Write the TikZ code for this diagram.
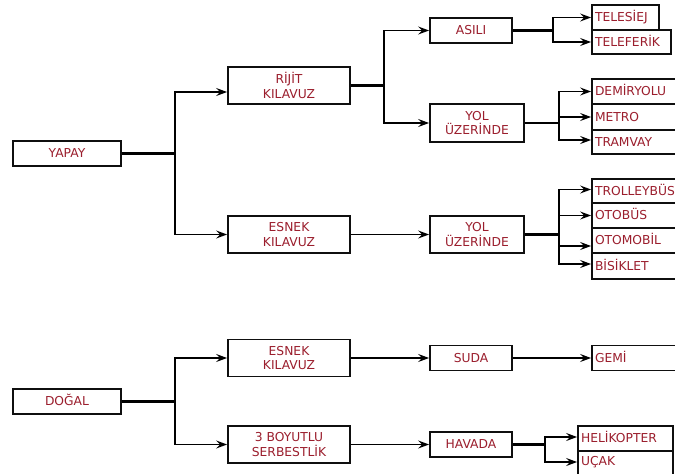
\documentclass[tikz,border=0pt]{standalone}
\usepackage{fontspec}
\setmainfont{DejaVu Sans}
\usetikzlibrary{arrows.meta}
\definecolor{txt}{RGB}{155,30,45}
\definecolor{edge}{RGB}{15,15,15}
\begin{document}
\begin{tikzpicture}[x=1pt,y=-1pt,
  box/.style={draw=edge,line width=1.8pt,fill=white,text=txt,inner sep=0pt,align=center,font=\fontsize{12.3}{14.5}\selectfont},
  one/.style={text height=8.8pt,text depth=0pt},
  leaf/.style={draw=edge,line width=1.8pt,fill=white,text=txt,inner xsep=3pt,inner ysep=0pt,align=left,font=\fontsize{12.3}{14.5}\selectfont,text height=8.8pt,text depth=0pt},
  stem/.style={draw=black,line width=2.4pt},
  arr/.style={draw=black,line width=1.6pt,-{Stealth[length=11pt,width=8pt,inset=4pt]}}]
\useasboundingbox (0,0) rectangle (675,474);
\clip (0,0) rectangle (675,474);

% main boxes
\node[box,one,minimum width=108pt,minimum height=25pt] (yapay) at (67,153.5) {YAPAY};
\node[box,one,minimum width=108pt,minimum height=25pt] (dogal) at (67,401.5) {DOĞAL};
\node[box,minimum width=122pt,minimum height=37pt] (rijit) at (289,85.5) {RİJİT\\KILAVUZ};
\node[box,minimum width=122pt,minimum height=37pt] (esnekA) at (289,234.5) {ESNEK\\KILAVUZ};
\node[box,minimum width=122pt,minimum height=37pt] (esnekB) at (289,358) {ESNEK\\KILAVUZ};
\node[box,minimum width=122pt,minimum height=37pt] (boyut) at (289,444.5) {3 BOYUTLU\\SERBESTLİK};
\node[box,one,minimum width=82pt,minimum height=25pt] (asili) at (471,30.5) {ASILI};
\node[box,minimum width=94pt,minimum height=38pt] (yolA) at (477,123) {YOL\\ÜZERİNDE};
\node[box,minimum width=94pt,minimum height=37pt] (yolB) at (477,234.5) {YOL\\ÜZERİNDE};
\node[box,one,minimum width=82pt,minimum height=25pt] (suda) at (471,358) {SUDA};
\node[box,one,minimum width=82pt,minimum height=25pt] (havada) at (471,444.5) {HAVADA};

% leaf boxes
\node[leaf,text width=61pt,minimum height=25pt] (telesiej) at (625.5,17.5) {TELESİEJ};
\node[leaf,text width=73pt,minimum height=24pt] (teleferik) at (631.5,42) {TELEFERİK};
\node[leaf,text width=77.5pt,minimum height=25pt] (demiryolu) at (633.75,91.5) {DEMİRYOLU};
\node[leaf,text width=77.5pt,minimum height=26pt] (metro) at (633.75,117) {METRO};
\node[leaf,text width=77.5pt,minimum height=24pt] (tramvay) at (633.75,142) {TRAMVAY};
\node[leaf,text width=77.5pt,minimum height=24pt] (trolleybus) at (633.75,191) {TROLLEYBÜS};
\node[leaf,text width=77.5pt,minimum height=25pt] (otobus) at (633.75,215.5) {OTOBÜS};
\node[leaf,text width=77.5pt,minimum height=25pt] (otomobil) at (633.75,240.5) {OTOMOBİL};
\node[leaf,text width=77.5pt,minimum height=26pt] (bisiklet) at (633.75,266) {BİSİKLET};
\node[leaf,text width=77.5pt,minimum height=25pt] (gemi) at (633.75,358) {GEMİ};
\node[leaf,text width=89pt,minimum height=25pt] (helikopter) at (625.5,438.5) {HELİKOPTER};
\node[leaf,text width=89pt,minimum height=25pt,text depth=4pt] (ucak) at (625.5,463.5) {UÇAK};

% connectors
\draw[stem] (yapay.east) -- ++(53,0) coordinate (j1);
\draw[arr] (j1) |- ([yshift=-6.5pt]rijit.west);
\draw[arr] (j1) |- (esnekA.west);

\draw[stem] (rijit.east) -- ++(33,0) coordinate (j2);
\draw[arr] (j2) |- (asili.west);
\draw[arr] (j2) |- (yolA.west);

\draw[stem] (asili.east) -- ++(40,0) coordinate (j3);
\draw[arr] (j3) |- (telesiej.west);
\draw[arr] (j3) |- (teleferik.west);

\draw[stem] (yolA.east) -- ++(34,0) coordinate (j4);
\draw[arr] (j4) |- (demiryolu.west);
\draw[arr] (j4) |- (metro.west);
\draw[arr] (j4) |- ([yshift=2pt]tramvay.west);

\draw[arr] (esnekA.east) -- (yolB.west);

\draw[stem] (yolB.east) -- ++(34,0) coordinate (j5);
\draw[arr] (j5) |- ([yshift=1.5pt]trolleybus.west);
\draw[arr] (j5) |- (otobus.west);
\draw[arr] (j5) |- ([yshift=-5.5pt]otomobil.west);
\draw[arr] (j5) |- ([yshift=2pt]bisiklet.west);

\draw[stem] (dogal.east) -- ++(53,0) coordinate (j6);
\draw[arr] (j6) |- (esnekB.west);
\draw[arr] (j6) |- (boyut.west);

\draw[arr] (esnekB.east) -- (suda.west);
\draw[arr] (suda.east) -- (gemi.west);
\draw[arr] (boyut.east) -- (havada.west);

\draw[stem] (havada.east) -- ++(32,0) coordinate (j7);
\draw[arr] (j7) |- ([yshift=1.5pt]helikopter.west);
\draw[arr] (j7) |- ([yshift=1.5pt]ucak.west);
\end{tikzpicture}
\end{document}
